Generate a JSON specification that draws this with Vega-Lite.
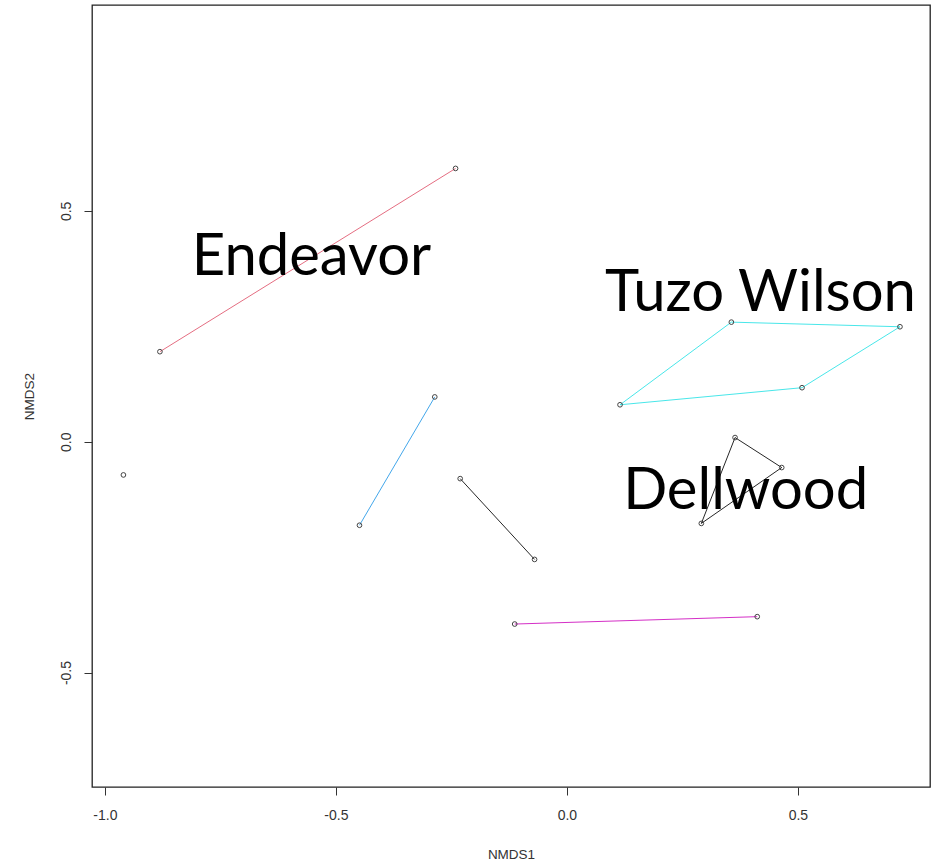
{
  "$schema": "https://vega.github.io/schema/vega-lite/v6.json",
  "autosize": {"type": "none"},
  "width": 838,
  "height": 782,
  "padding": {"left": 92, "top": 5, "right": 11, "bottom": 74},
  "background": "white",
  "config": {
    "view": {"stroke": "#222222", "strokeWidth": 1.3},
    "axis": {
      "domain": false,
      "grid": false,
      "tickColor": "#333333",
      "tickSize": 8,
      "labelFont": "Liberation Sans",
      "labelFontSize": 14,
      "labelColor": "#333333",
      "titleFont": "Liberation Sans",
      "titleFontSize": 13.5,
      "titleFontWeight": "normal",
      "titleColor": "#333333"
    }
  },
  "datasets": {
    "pts": [
      {"group": "A", "ord": 1, "x": -0.881, "y": 0.195, "closing": false},
      {"group": "A", "ord": 2, "x": -0.241, "y": 0.592, "closing": false},
      {"group": "B", "ord": 1, "x": -0.449, "y": -0.181, "closing": false},
      {"group": "B", "ord": 2, "x": -0.286, "y": 0.097, "closing": false},
      {"group": "C", "ord": 1, "x": -0.231, "y": -0.080, "closing": false},
      {"group": "C", "ord": 2, "x": -0.070, "y": -0.255, "closing": false},
      {"group": "D", "ord": 1, "x": -0.113, "y": -0.395, "closing": false},
      {"group": "D", "ord": 2, "x": 0.412, "y": -0.379, "closing": false},
      {"group": "E", "ord": 1, "x": 0.115, "y": 0.080, "closing": false},
      {"group": "E", "ord": 2, "x": 0.356, "y": 0.259, "closing": false},
      {"group": "E", "ord": 3, "x": 0.721, "y": 0.249, "closing": false},
      {"group": "E", "ord": 4, "x": 0.509, "y": 0.117, "closing": false},
      {"group": "E", "ord": 5, "x": 0.115, "y": 0.080, "closing": true},
      {"group": "F", "ord": 1, "x": 0.364, "y": 0.009, "closing": false},
      {"group": "F", "ord": 2, "x": 0.465, "y": -0.056, "closing": false},
      {"group": "F", "ord": 3, "x": 0.291, "y": -0.177, "closing": false},
      {"group": "F", "ord": 4, "x": 0.364, "y": 0.009, "closing": true},
      {"group": "G", "ord": 1, "x": -0.960, "y": -0.072, "closing": false}
    ],
    "labels": [
      {"label": "Endeavor", "x": -0.553, "y": 0.362},
      {"label": "Tuzo Wilson", "x": 0.419, "y": 0.283},
      {"label": "Dellwood", "x": 0.387, "y": -0.146}
    ]
  },
  "encoding": {
    "x": {
      "field": "x", "type": "quantitative",
      "scale": {"domain": [-1.028, 0.786], "nice": false, "zero": false},
      "axis": {"title": "NMDS1", "values": [-1.0, -0.5, 0.0, 0.5], "labelExpr": "replace(format(datum.value, '.1f'), '\u2212', '-')", "labelPadding": 13, "titlePadding": 25}
    },
    "y": {
      "field": "y", "type": "quantitative",
      "scale": {"domain": [-0.748, 0.946], "nice": false, "zero": false},
      "axis": {"title": "NMDS2", "values": [-0.5, 0.0, 0.5], "labelExpr": "replace(format(datum.value, '.1f'), '\u2212', '-')", "labelAngle": 270, "labelAlign": "center", "labelBaseline": "bottom", "labelPadding": 11, "titlePadding": 23}
    }
  },
  "layer": [
    {
      "data": {"name": "pts"},
      "mark": {"type": "line", "strokeWidth": 1, "opacity": 0.85},
      "encoding": {
        "detail": {"field": "group"},
        "order": {"field": "ord", "type": "quantitative"},
        "color": {
          "field": "group", "type": "nominal", "legend": null,
          "scale": {"domain": ["A", "B", "C", "D", "E", "F", "G"], "range": ["#DF536B", "#2297E6", "#000000", "#CD0BBC", "#28E2E5", "#000000", "#000000"]}
        }
      }
    },
    {
      "data": {"name": "pts"},
      "transform": [{"filter": "datum.closing != true"}],
      "mark": {"type": "point", "shape": "circle", "filled": false, "stroke": "#444444", "strokeWidth": 1, "size": 22, "opacity": 1}
    },
    {
      "data": {"name": "labels"},
      "mark": {"type": "text", "font": "Lato", "fontSize": 58, "color": "#000000", "align": "center", "baseline": "alphabetic"},
      "encoding": {"text": {"field": "label"}}
    }
  ]
}
